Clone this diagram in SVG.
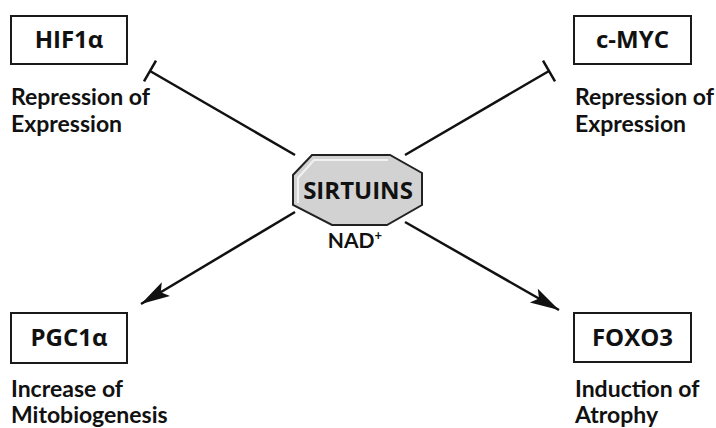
<svg xmlns="http://www.w3.org/2000/svg" width="716" height="428" viewBox="0 0 716 428">
<style>
.box{fill:#fff;stroke:#1a1a1a;stroke-width:2}
.lbl{font-family:"Open Sans","Liberation Sans",sans-serif;font-weight:700;font-size:24px;fill:#111;text-anchor:middle}
.desc{font-family:Lato,"Open Sans","Liberation Sans",sans-serif;font-weight:700;font-size:23px;fill:#111}
.ln{stroke:#111;stroke-width:2.5;fill:none}
</style>
<defs>
<marker id="arr" viewBox="-32 -9 34 18" refX="0" refY="0" markerWidth="34" markerHeight="18" markerUnits="userSpaceOnUse" orient="auto">
<path d="M0,0 L-29,-8 L-23,0 L-29,8 Z" fill="#111"/>
</marker>
</defs>
<rect width="716" height="428" fill="#fff"/>
<g id="connectors">
<line class="ln" x1="295" y1="155" x2="150" y2="71"/>
<line class="ln" x1="144" y1="81.4" x2="156" y2="60.6"/>
<line class="ln" x1="405" y1="155" x2="549" y2="71"/>
<line class="ln" x1="543" y1="60.6" x2="555" y2="81.4"/>
<line class="ln" x1="295" y1="212" x2="141" y2="304" marker-end="url(#arr)"/>
<line class="ln" x1="405" y1="222" x2="559" y2="310" marker-end="url(#arr)"/>
</g>
<g id="sirtuins">
<polygon points="312,155 390,155 422,173 422,205 387,225 332,225 293,205 293,175" fill="#d2d2d2" stroke="#222" stroke-width="2"/>
<polyline points="298,203 298,178 314,160 388,160" fill="none" stroke="#fff" stroke-opacity="0.7" stroke-width="2"/>
<text class="lbl" x="358" y="199">SIRTUINS</text>
<text x="355" y="248" font-family="Lato,'Open Sans','Liberation Sans',sans-serif" font-weight="700" font-size="21" fill="#111" text-anchor="middle">NAD<tspan font-size="13" dy="-8">+</tspan></text>
</g>
<g id="hif1a">
<rect class="box" x="11" y="16" width="116" height="48"/>
<text class="lbl" x="69" y="48">HIF1α</text>
<text class="desc" x="11" y="105">Repression of</text>
<text class="desc" x="11" y="132">Expression</text>
</g>
<g id="cmyc">
<rect class="box" x="574" y="16" width="117" height="48"/>
<text class="lbl" x="632.5" y="48">c-MYC</text>
<text class="desc" x="575" y="105">Repression of</text>
<text class="desc" x="575" y="132">Expression</text>
</g>
<g id="pgc1a">
<rect class="box" x="11" y="313" width="116" height="50"/>
<text class="lbl" x="69" y="346">PGC1α</text>
<text class="desc" x="11" y="397">Increase of</text>
<text class="desc" x="11" y="423">Mitobiogenesis</text>
</g>
<g id="foxo3">
<rect class="box" x="574" y="313" width="117" height="49"/>
<text class="lbl" x="632.5" y="346">FOXO3</text>
<text class="desc" x="575" y="397">Induction of</text>
<text class="desc" x="575" y="423">Atrophy</text>
</g>
</svg>
